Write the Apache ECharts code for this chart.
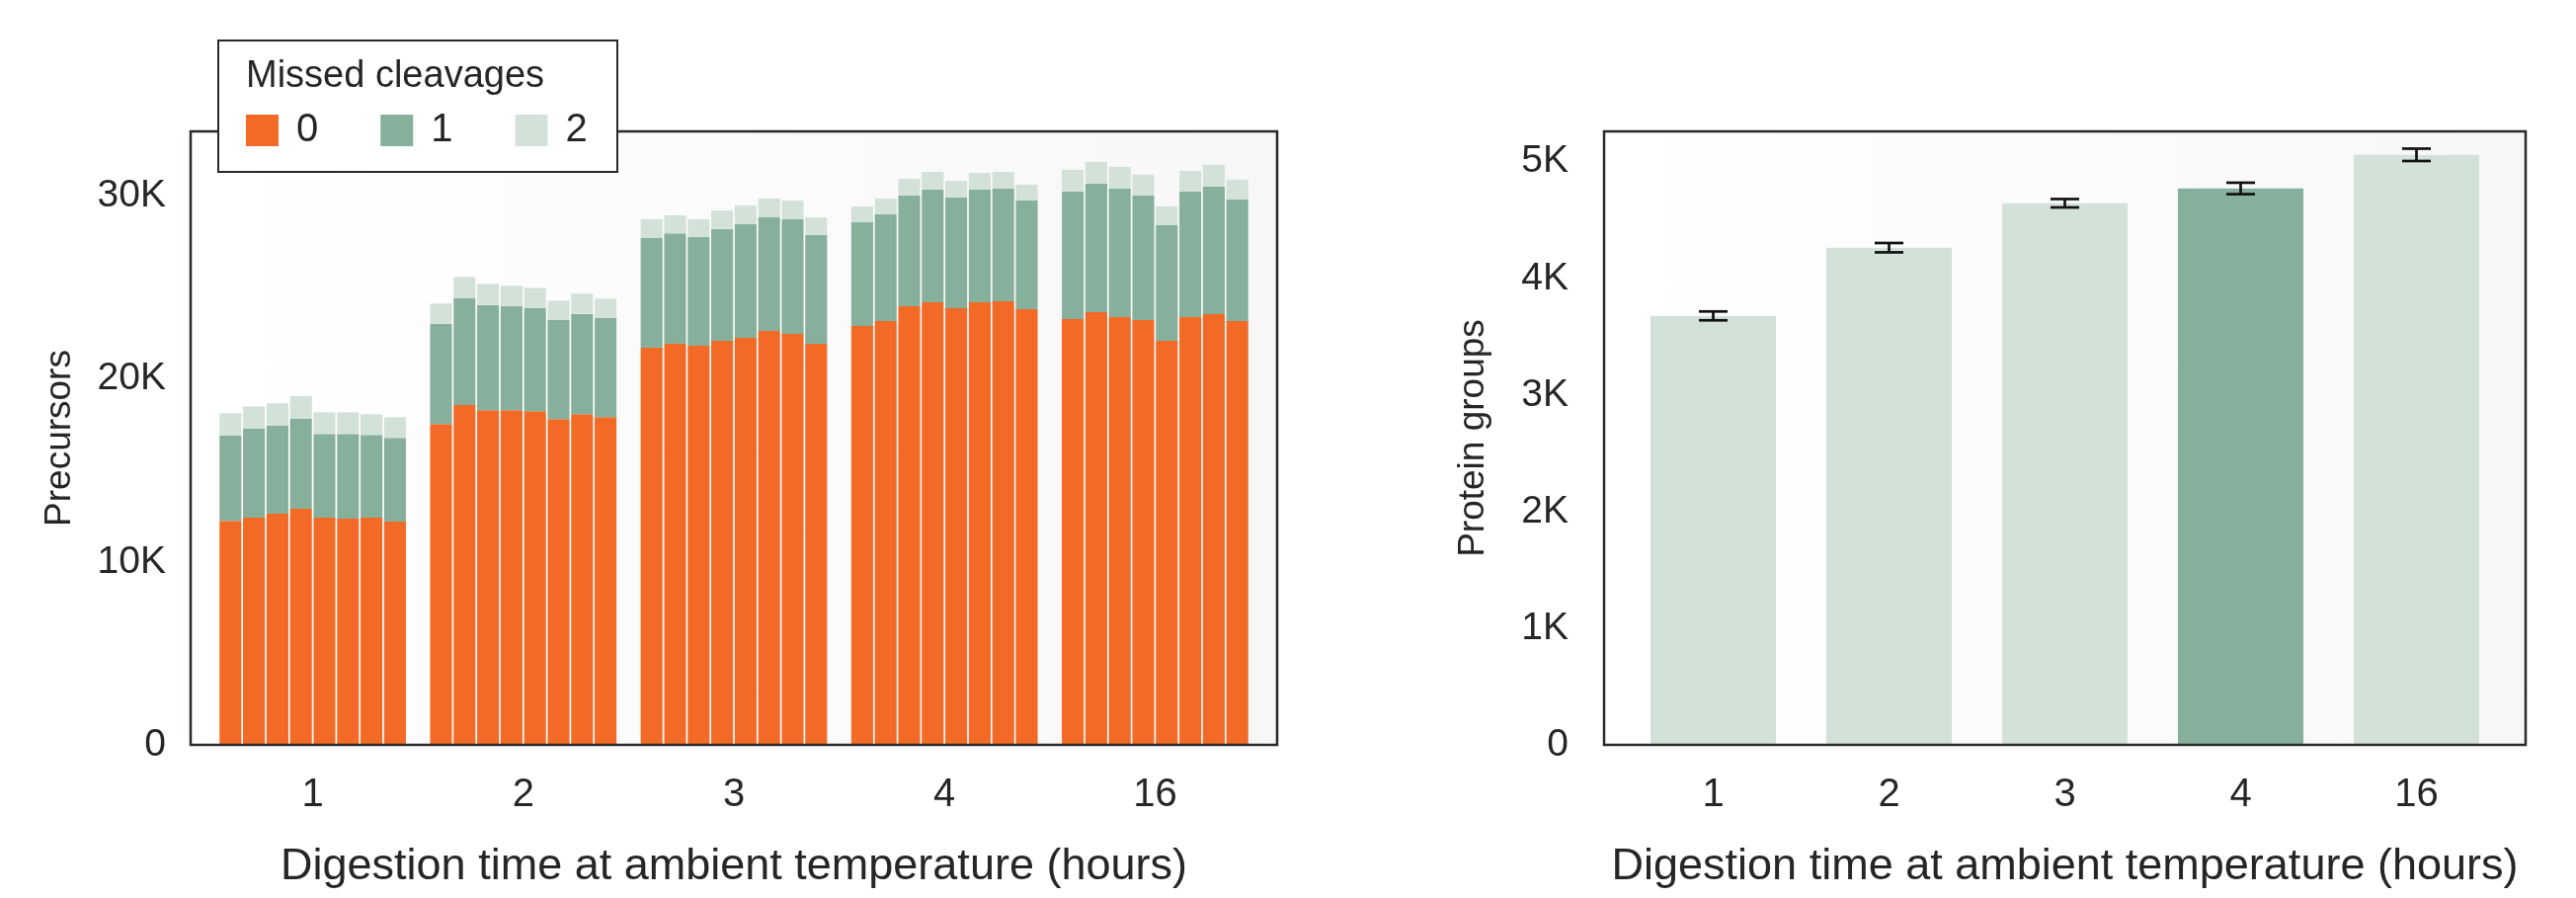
<!DOCTYPE html>
<html>
<head>
<meta charset="utf-8">
<script src="https://cdn.jsdelivr.net/npm/echarts@6/dist/echarts.min.js"></script>
<style>
html,body{margin:0;padding:0;background:#fff}
#main{width:2608px;height:909px}
</style>
</head>
<body>
<div id="main"></div>
<script>
// digestion time groups (hours)
const groups = ['1', '2', '3', '4', '16'];
const replicates = 8;
const levels = ['0', '1', '2'];

// precursors per replicate, split by number of missed cleavages
const missed0 = [
    [12240, 12420, 12640, 12900, 12420, 12360, 12420, 12200],
    [17530, 18570, 18290, 18290, 18230, 17800, 18070, 17910],
    [21710, 21920, 21810, 22080, 22250, 22620, 22460, 21920],
    [22890, 23160, 23970, 24190, 23870, 24190, 24240, 23810],
    [23270, 23650, 23380, 23220, 22080, 23380, 23540, 23160]
];
const missed1 = [
    [4660, 4860, 4800, 4920, 4570, 4630, 4520, 4580],
    [5490, 5850, 5750, 5700, 5650, 5430, 5490, 5430],
    [5990, 6030, 5940, 6110, 6210, 6210, 6270, 5940],
    [5670, 5840, 6050, 6160, 6040, 6160, 6160, 5940],
    [6970, 7020, 7020, 6800, 6320, 6860, 6970, 6650]
];
const missed2 = [
    [1230, 1220, 1230, 1240, 1190, 1190, 1130, 1130],
    [1100, 1160, 1160, 1100, 1100, 1050, 1100, 1050],
    [1030, 990, 980, 1020, 1020, 1030, 1020, 970],
    [870, 860, 920, 970, 920, 910, 920, 870],
    [1190, 1190, 1190, 1140, 1030, 1130, 1190, 1080]
];

// protein groups (mean and error)
const proteinGroups = [3678, 4263, 4644, 4771, 5059];
const proteinErr = [38, 40, 36, 49, 53];
const highlighted = '4';

const FONT = "'Liberation Sans', Arial, sans-serif";
const TXT = '#262626';
const colOrange = '#F26A26';
const colMid = '#87B09C';
const colLight = '#D3E2D9';
const levelColors = [colOrange, colMid, colLight];
const levelData = [missed0, missed1, missed2];

const kFmt = v => v === 0 ? '0' : (v / 1000) + 'K';

let chart = echarts.init(document.getElementById('main'));

// stacked bars: one stack per replicate, side by side within each group
let series = [];
for (let r = 0; r < replicates; r++) {
    for (let l = 0; l < levels.length; l++) {
        series.push({
            name: levels[l],
            type: 'bar',
            xAxisIndex: 0,
            yAxisIndex: 0,
            stack: 'rep' + r,
            barWidth: 22.1,
            barGap: '7.7%',
            itemStyle: { color: levelColors[l] },
            data: levelData[l].map(g => g[r])
        });
    }
}

series.push({
    name: 'protein',
    type: 'bar',
    xAxisIndex: 1,
    yAxisIndex: 1,
    barWidth: 127,
    data: proteinGroups.map((v, i) => ({
        value: v,
        itemStyle: { color: groups[i] === highlighted ? colMid : colLight }
    }))
});

series.push({
    name: 'err',
    type: 'custom',
    xAxisIndex: 1,
    yAxisIndex: 1,
    z: 5,
    encode: { x: 0, y: 1 },
    data: proteinGroups.map((v, i) => [i, v, proteinErr[i]]),
    renderItem: (params, api) => {
        const x = api.value(0), m = api.value(1), e = api.value(2);
        const top = api.coord([x, m + e]);
        const bot = api.coord([x, m - e]);
        const hw = 14.5;
        const style = { stroke: '#111', lineWidth: 2.7 };
        return {
            type: 'group',
            children: [
                { type: 'line', shape: { x1: top[0], y1: top[1], x2: bot[0], y2: bot[1] }, style: style },
                { type: 'line', shape: { x1: top[0] - hw, y1: top[1], x2: top[0] + hw, y2: top[1] }, style: style },
                { type: 'line', shape: { x1: bot[0] - hw, y1: bot[1], x2: bot[0] + hw, y2: bot[1] }, style: style }
            ]
        };
    }
});

const bgFill = {
    type: 'linear', x: 0, y: 0, x2: 1, y2: 0,
    colorStops: [{ offset: 0, color: '#ffffff' }, { offset: 1, color: '#f7f7f8' }]
};

const xAxisBase = (gridIndex) => ({
    type: 'category',
    gridIndex: gridIndex,
    data: groups,
    axisLine: { show: false },
    axisTick: { show: false },
    axisLabel: { color: TXT, fontSize: 40, fontFamily: FONT, margin: 31 },
    name: 'Digestion time at ambient temperature (hours)',
    nameLocation: 'middle',
    nameGap: 124,
    nameTextStyle: { color: TXT, fontSize: 45, fontFamily: FONT, verticalAlign: 'middle' }
});

const option = {
    animation: false,
    backgroundColor: '#ffffff',
    grid: [
        { left: 210, right: 1332, top: 133, bottom: 155, containLabel: false },
        { left: 1645.5, right: 72.5, top: 133, bottom: 155, containLabel: false }
    ],
    legend: {
        data: levels,
        left: 249,
        top: 112,
        padding: 0,
        z: 30,
        icon: 'rect',
        itemWidth: 33,
        itemHeight: 32,
        itemGap: 63,
        selectedMode: false,
        textStyle: { color: TXT, fontSize: 40, fontFamily: FONT, padding: [0, 0, 0, 13], width: 23 }
    },
    xAxis: [xAxisBase(0), xAxisBase(1)],
    yAxis: [
        {
            type: 'value',
            gridIndex: 0,
            min: 0,
            max: 33530,
            interval: 10000,
            offset: 17,
            axisLine: { show: false },
            axisTick: { show: false },
            splitLine: { show: false },
            axisLabel: { color: TXT, fontSize: 39, fontFamily: FONT, margin: 25, formatter: kFmt,
                showMaxLabel: false },
            name: 'Precursors',
            nameLocation: 'middle',
            nameGap: 132,
            nameTextStyle: { color: TXT, fontSize: 37, fontFamily: FONT, verticalAlign: 'middle' }
        },
        {
            type: 'value',
            gridIndex: 1,
            min: 0,
            max: 5260,
            interval: 1000,
            offset: 21.5,
            axisLine: { show: false },
            axisTick: { show: false },
            splitLine: { show: false },
            axisLabel: { color: TXT, fontSize: 39, fontFamily: FONT, margin: 36, formatter: kFmt,
                showMaxLabel: false },
            name: 'Protein groups',
            nameLocation: 'middle',
            nameGap: 132,
            nameTextStyle: { color: TXT, fontSize: 37, fontFamily: FONT, verticalAlign: 'middle' }
        }
    ],
    graphic: [
        // axes backgrounds
        { type: 'rect', z: -10, shape: { x: 193, y: 133, width: 1100, height: 621 }, style: { fill: bgFill } },
        { type: 'rect', z: -10, shape: { x: 1624, y: 133, width: 933, height: 621 }, style: { fill: bgFill } },
        // axes frames
        { type: 'rect', z: 10, shape: { x: 193, y: 133, width: 1100, height: 621 },
            style: { fill: null, stroke: '#262b26', lineWidth: 2.5 } },
        { type: 'rect', z: 10, shape: { x: 1624, y: 133, width: 933, height: 621 },
            style: { fill: null, stroke: '#262b26', lineWidth: 2.5 } },
        // legend box
        { type: 'rect', z: 20, shape: { x: 221, y: 41, width: 404, height: 133 },
            style: { fill: '#ffffff', stroke: '#262b26', lineWidth: 2 } },
        { type: 'text', z: 21, x: 249, y: 77.5,
            style: { text: 'Missed cleavages', fill: TXT, font: '38px ' + FONT, verticalAlign: 'middle' } }
    ],
    series: series
};

chart.setOption(option);
</script>
</body>
</html>
